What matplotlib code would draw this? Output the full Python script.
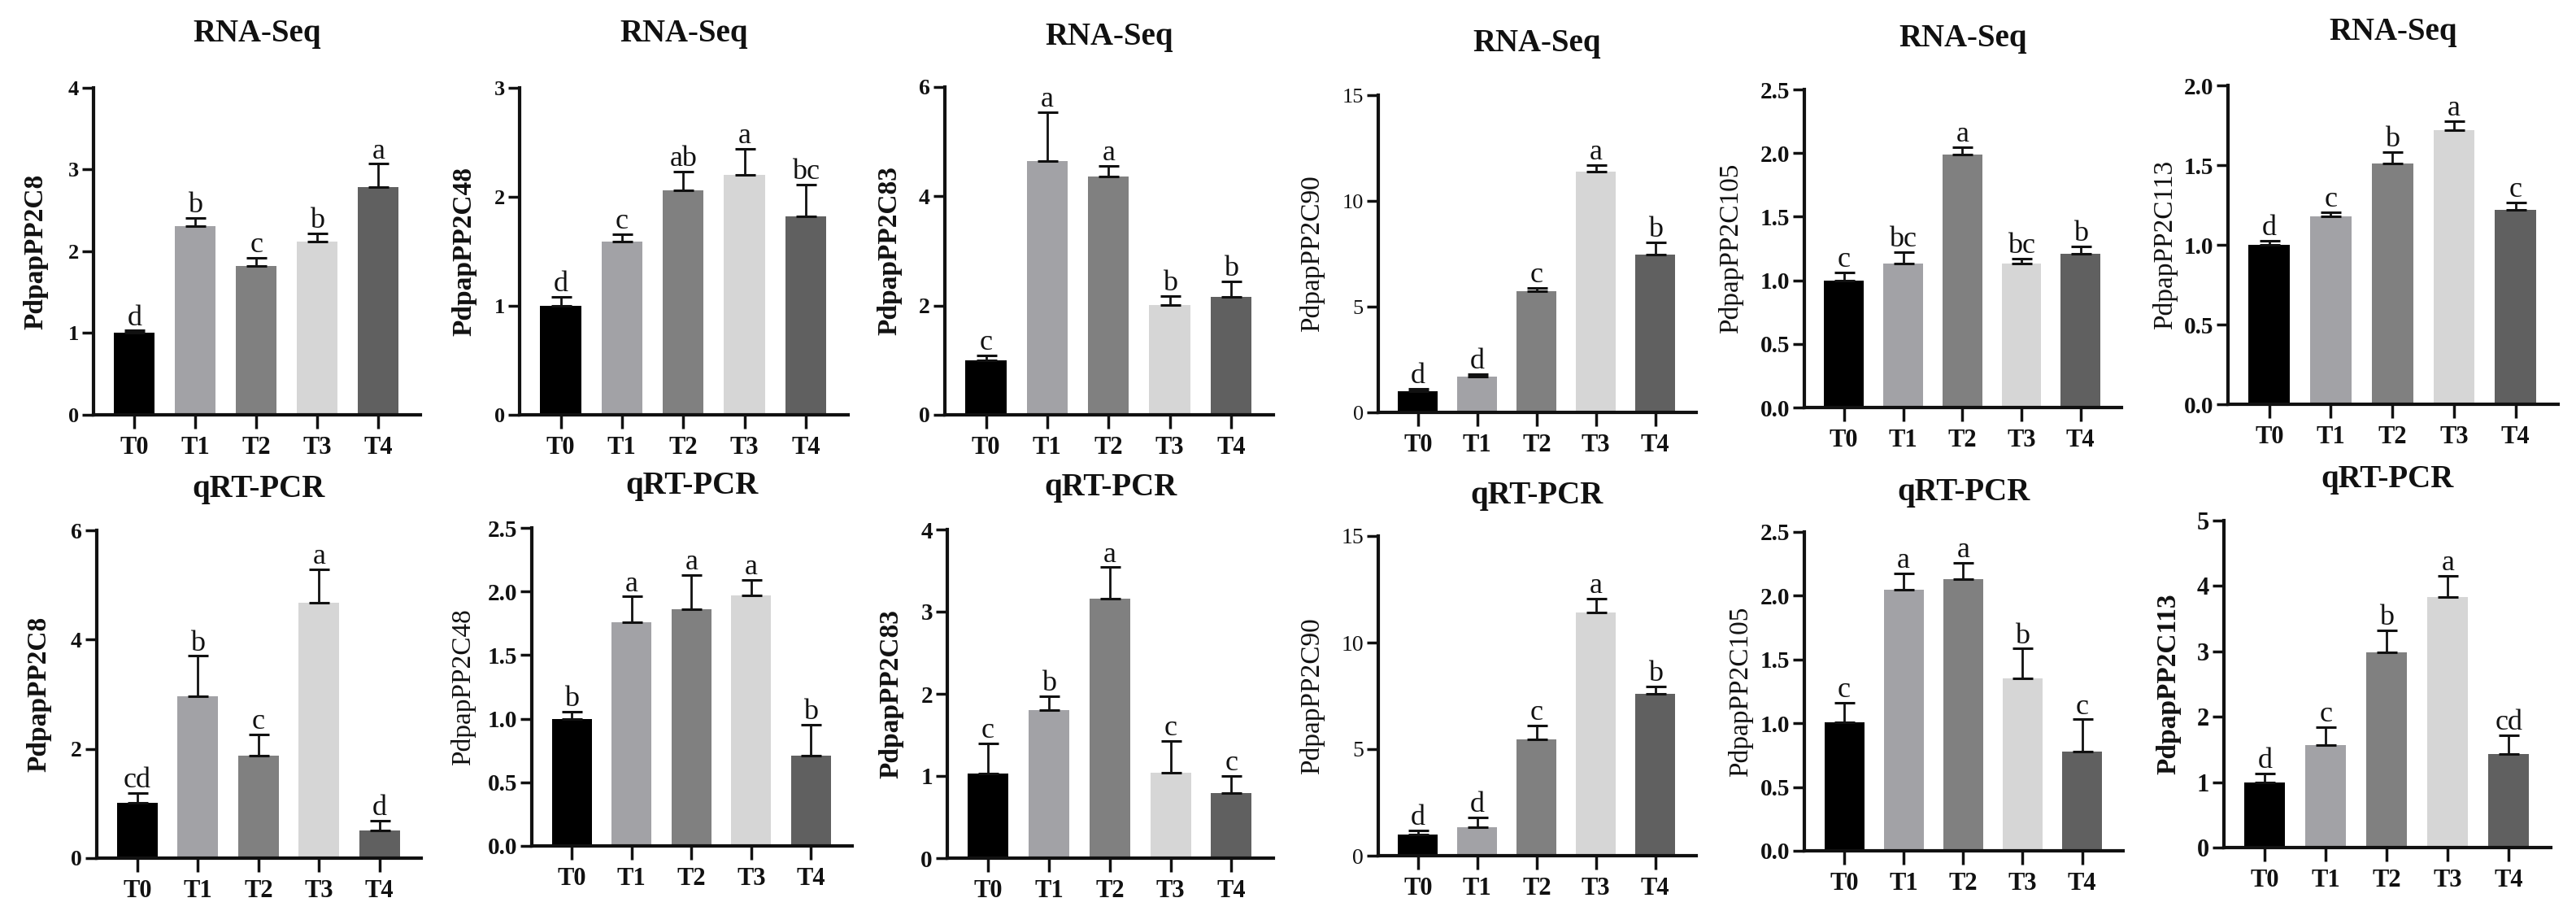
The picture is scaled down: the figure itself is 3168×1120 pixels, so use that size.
import matplotlib
matplotlib.use("Agg")
import matplotlib.pyplot as plt
import numpy as np

plt.rcParams['font.family'] = 'serif'
plt.rcParams['font.serif'] = ['Liberation Serif', 'Times New Roman', 'DejaVu Serif']

groups = ['T0', 'T1', 'T2', 'T3', 'T4']
genes = ['PdpapPP2C8', 'PdpapPP2C48', 'PdpapPP2C83', 'PdpapPP2C90', 'PdpapPP2C105', 'PdpapPP2C113']
bar_colors = ['#000000', '#a2a2a6', '#808080', '#d6d6d6', '#606060']

# RNA-Seq (top row)
rna_means = [
    [1.00, 2.31, 1.82, 2.12, 2.79],
    [1.00, 1.59, 2.06, 2.20, 1.82],
    [1.00, 4.64, 4.36, 2.01, 2.16],
    [1.00, 1.71, 5.75, 11.38, 7.48],
    [1.00, 1.13, 1.99, 1.13, 1.21],
    [1.00, 1.18, 1.51, 1.72, 1.22],
]
rna_err = [
    [0.03, 0.10, 0.10, 0.10, 0.28],
    [0.08, 0.07, 0.17, 0.24, 0.29],
    [0.09, 0.90, 0.19, 0.16, 0.28],
    [0.10, 0.11, 0.14, 0.30, 0.55],
    [0.06, 0.09, 0.055, 0.04, 0.055],
    [0.025, 0.025, 0.073, 0.056, 0.044],
]
rna_letters = [
    ['d', 'b', 'c', 'b', 'a'],
    ['d', 'c', 'ab', 'a', 'bc'],
    ['c', 'a', 'a', 'b', 'b'],
    ['d', 'd', 'c', 'a', 'b'],
    ['c', 'bc', 'a', 'bc', 'b'],
    ['d', 'c', 'b', 'a', 'c'],
]
rna_ymax = [4, 3, 6, 15, 2.5, 2.0]
rna_ystep = [1, 1, 2, 5, 0.5, 0.5]

# qRT-PCR (bottom row)
qpcr_means = [
    [1.01, 2.96, 1.87, 4.68, 0.51],
    [1.00, 1.76, 1.86, 1.97, 0.71],
    [1.03, 1.80, 3.16, 1.04, 0.79],
    [1.00, 1.32, 5.45, 11.40, 7.60],
    [1.01, 2.05, 2.13, 1.35, 0.78],
    [1.00, 1.57, 2.98, 3.83, 1.43],
]
qpcr_err = [
    [0.18, 0.74, 0.40, 0.61, 0.17],
    [0.055, 0.20, 0.27, 0.12, 0.24],
    [0.37, 0.175, 0.38, 0.39, 0.21],
    [0.20, 0.47, 0.65, 0.68, 0.34],
    [0.15, 0.125, 0.13, 0.235, 0.25],
    [0.135, 0.27, 0.34, 0.33, 0.29],
]
qpcr_letters = [
    ['cd', 'b', 'c', 'a', 'd'],
    ['b', 'a', 'a', 'a', 'b'],
    ['c', 'b', 'a', 'c', 'c'],
    ['d', 'd', 'c', 'a', 'b'],
    ['c', 'a', 'a', 'b', 'c'],
    ['d', 'c', 'b', 'a', 'cd'],
]
qpcr_ymax = [6, 2.5, 4, 15, 2.5, 5]
qpcr_ystep = [2, 0.5, 1, 5, 0.5, 1]

W, H = 3168, 1120
DPI = 100
fig = plt.figure(figsize=(W / DPI, H / DPI), dpi=DPI)
fig.patch.set_facecolor('white')

PW = 528
# layout (pixels): x0, x1 within panel, top y, bottom y, title y, ylabel x
top_layout = [
    (115, 517, 108, 510, 41, 44),
    (111, 515, 108, 510, 42, 43),
    (106, 510, 107, 510, 45, 38),
    (111, 502, 117, 507, 54, 30),
    (107, 497, 110, 501, 48, 17),
    (100, 506, 105, 497, 40, 23),
]
bot_layout = [
    (119, 518, 652, 1055, 601, 48),
    (126, 520, 649, 1040, 597, 42),
    (109, 510, 651, 1055, 600, 40),
    (111, 502, 659, 1052, 610, 30),
    (107, 499, 654, 1046, 605, 29),
    (95, 497, 640, 1042, 589, 27),
]
top_label_bold = [True, True, True, False, False, False]
bot_label_bold = [True, False, True, False, False, True]
top_tick_fs = [19, 19, 20, 19, 21, 21]
bot_tick_fs = [20, 21, 21, 20, 21, 22]
top_tick_bold = [True, True, True, False, True, True]
bot_tick_bold = [True, True, True, False, True, True]


def fmt(v, step):
    if step < 1:
        return f"{v:.1f}"
    return f"{int(round(v))}"


def draw(col, layout, means, errs, letters, ymax, ystep, title, label_bold, tick_fs, tick_bold):
    x0, x1, yt, yb, ty, lx = layout
    off = col * PW
    ax = fig.add_axes([(off + x0) / W, 1 - yb / H, (x1 - x0) / W, (yb - yt) / H])
    xs = np.arange(len(groups))
    ax.bar(xs, means, width=0.67, color=bar_colors, edgecolor='none', zorder=2)
    ax.errorbar(xs, means, yerr=[np.zeros(len(errs)), errs], fmt='none',
                ecolor='#111111', elinewidth=2.0, capsize=9, capthick=2.2, zorder=3)
    for xi, m, e, lt in zip(xs, means, errs, letters):
        ax.annotate(lt, (xi, m + e), xytext=(0, 5), textcoords='offset points',
                    ha='center', va='baseline', fontsize=26, color='#111111',
                    annotation_clip=False)
    ax.set_xlim(-0.67, 4.69)
    ax.set_ylim(0, ymax)
    ticks = np.arange(0, ymax + ystep / 2, ystep)
    ax.set_yticks(ticks)
    ax.set_yticklabels([fmt(t, ystep) for t in ticks], fontsize=tick_fs,
                       fontweight='bold' if tick_bold else 'normal')
    ax.set_xticks(xs)
    ax.set_xticklabels(groups, fontsize=22, fontweight='bold')
    for s in ['top', 'right']:
        ax.spines[s].set_visible(False)
    for s in ['left', 'bottom']:
        ax.spines[s].set_linewidth(3)
        ax.spines[s].set_color('#111111')
    ax.tick_params(axis='y', length=10, width=2.5, pad=3, colors='#111111')
    ax.tick_params(axis='x', length=12, width=2.5, pad=7, colors='#111111')
    ax.set_facecolor('white')
    fig.text((off + (x0 + x1) / 2) / W, 1 - ty / H, title, ha='center', va='center',
             fontsize=28, fontweight='bold', color='#111111')
    fig.text((off + lx) / W, 1 - ((yt + yb) / 2) / H, genes[col], rotation=90,
             ha='center', va='center', fontsize=24,
             fontweight='bold' if label_bold else 'normal', color='#111111')


for i in range(6):
    draw(i, top_layout[i], rna_means[i], rna_err[i], rna_letters[i], rna_ymax[i], rna_ystep[i],
         'RNA-Seq', top_label_bold[i], top_tick_fs[i], top_tick_bold[i])
    draw(i, bot_layout[i], qpcr_means[i], qpcr_err[i], qpcr_letters[i], qpcr_ymax[i], qpcr_ystep[i],
         'qRT-PCR', bot_label_bold[i], bot_tick_fs[i], bot_tick_bold[i])

fig.savefig('out.png', dpi=DPI, facecolor='white')
